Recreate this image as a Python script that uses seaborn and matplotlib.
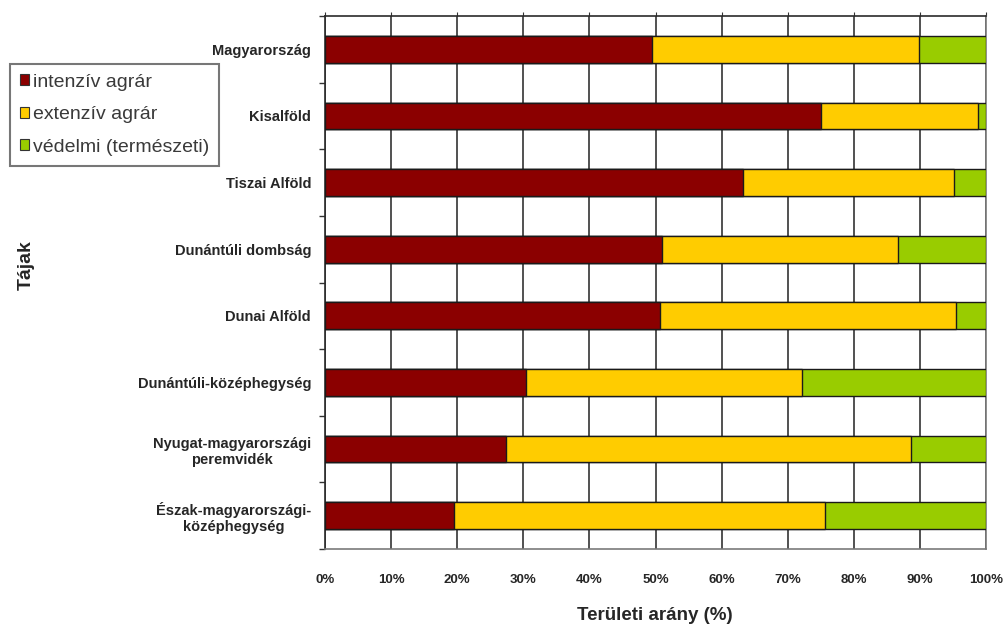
import numpy as np
import pandas as pd
import matplotlib
matplotlib.use("Agg")
import matplotlib.pyplot as plt
from matplotlib.patches import Patch
import seaborn as sns

categories = ["Magyarország", "Kisalföld", "Tiszai Alföld", "Dunántúli dombság",
              "Dunai Alföld", "Dunántúli-középhegység",
              "Nyugat-magyarországi\nperemvidék", "Észak-magyarországi-\nközéphegység"]
intenziv = [49.5, 75.0, 63.3, 51.0, 50.7, 30.4, 27.4, 19.5]
extenziv = [40.4, 23.8, 31.8, 35.7, 44.7, 41.8, 61.2, 56.2]
vedelmi = [10.1, 1.2, 4.9, 13.3, 4.6, 27.8, 11.4, 24.3]
series_names = ["intenzív agrár", "extenzív agrár", "védelmi (természeti)"]
colors = ["#8B0000", "#FFCC00", "#99CC00"]
xticks = [0, 10, 20, 30, 40, 50, 60, 70, 80, 90, 100]
xticklabels = [f"{v}%" for v in xticks]

sns.set_style("white")
plt.rcParams["font.family"] = ["Liberation Sans", "DejaVu Sans"]

df = pd.DataFrame({"cat": categories, "i": intenziv, "e": extenziv, "v": vedelmi})
df["c2"] = df["i"] + df["e"]
df["c3"] = df["c2"] + df["v"]

fig = plt.figure(figsize=(10.07, 6.30), dpi=100)
ax = fig.add_axes([325 / 1007, 1 - 549 / 630, (986 - 325) / 1007, (549 - 16) / 630])

for col, colr in zip(["c3", "c2", "i"], [colors[2], colors[1], colors[0]]):
    sns.barplot(data=df, x=col, y="cat", orient="h", color=colr, width=0.4,
                edgecolor="#1a1a1a", linewidth=1.0, saturation=1, ax=ax, zorder=3)

ax.set_xlim(0, 100)
ax.set_xticks(xticks)
ax.set_xticklabels(xticklabels, fontsize=9.5, fontweight="bold")
ax.xaxis.grid(True, color="#333333", linewidth=1.2, zorder=0)
ax.set_axisbelow(True)
ax.tick_params(axis="x", which="major", length=0, pad=15)
ax.tick_params(axis="x", which="major", top=True, length=3, labeltop=False, color="#333333")
ax.tick_params(axis="x", bottom=False)

ax.set_yticks(range(len(categories)))
ax.set_yticklabels(categories, fontsize=10.5, fontweight="bold", multialignment="center")
ax.tick_params(axis="y", which="major", length=0, pad=10)
ax.set_yticks(np.arange(-0.5, len(categories), 1), minor=True)
ax.tick_params(axis="y", which="minor", left=True, length=4, color="#333333", width=1)

for s in ["left", "top"]:
    ax.spines[s].set_color("#2a2a2a")
    ax.spines[s].set_linewidth(1.2)
for s in ["right", "bottom"]:
    ax.spines[s].set_color("#7a7a7a")
    ax.spines[s].set_linewidth(1.2)

ax.set_xlabel("")
ax.set_ylabel("")
fig.text(655 / 1007, 1 - 616 / 630, "Területi arány (%)", ha="center", va="center",
         fontsize=13.5, fontweight="bold")
fig.text(26 / 1007, 1 - 265 / 630, "Tájak", ha="center", va="center", rotation=90,
         fontsize=14, fontweight="bold")

handles = [Patch(facecolor=c, edgecolor="#333333", linewidth=0.8) for c in colors]
leg = fig.legend(handles, series_names, loc="upper left",
                 bbox_to_anchor=(10 / 1007, 1 - 64 / 630), bbox_transform=fig.transFigure,
                 fontsize=14, frameon=True, fancybox=False, edgecolor="#555555",
                 handlelength=0.5, handleheight=0.5, handletextpad=0.2,
                 labelspacing=0.8, borderpad=0.5, borderaxespad=0)
leg.get_frame().set_linewidth(1.5)
for t in leg.get_texts():
    t.set_color("#3a3a3a")

fig.savefig("out.png", dpi=100, facecolor="white")
